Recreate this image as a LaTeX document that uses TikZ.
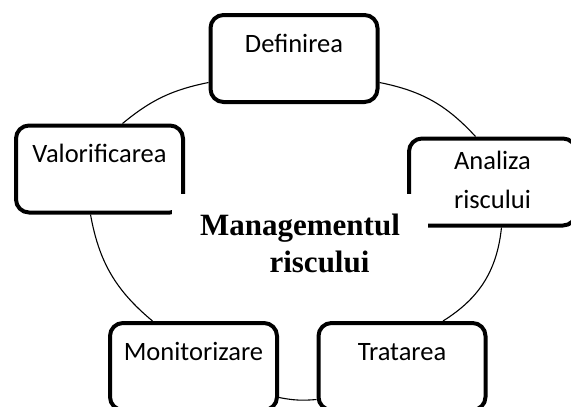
\documentclass[tikz,border=0pt]{standalone}
\usepackage{fontspec}
\setmainfont{Carlito}
\newfontfamily\hubfont{Liberation Serif}
\begin{document}
\begin{tikzpicture}[x=1pt,y=-1pt,line join=bevel,
  stage/.style={draw,line width=4pt,rounded corners=13pt,fill=white,
    minimum width=167pt,inner xsep=0pt,inner ysep=0pt,align=center,
    font=\fontsize{26.5}{39}\selectfont,text height=37pt,text depth=50pt},
  ring/.style={line width=1.1pt},
  hub/.style={fill=white,minimum width=256pt,inner xsep=0pt,inner ysep=20pt,
    align=center,font=\hubfont\bfseries\fontsize{31}{37}\selectfont}]
\useasboundingbox (0,0) rectangle (571,407);
%%
\node (node_def) at (294,58.5) [stage] {Definirea};
  \node (node_ana) at (492.5,182) [stage,text height=70pt,text depth=17pt] {Analiza\\riscului};
  \node (node_trat) at (402,366.5) [stage] {Tratarea};
  \node (node_mon) at (193.5,366.5) [stage] {Monitorizare};
  \node (node_val) at (99.5,169) [stage] {Valorificarea};
  \draw [ring] ([xshift=23pt]node_val.north) to[bend left=14] ([yshift=-24pt]node_def.west);
  \draw [ring] ([yshift=-24pt]node_def.east) to[bend left=18] ([xshift=-17pt]node_ana.north);
  \draw [ring] ([xshift=9pt]node_ana.south) to[bend left=26] ([xshift=41pt]node_trat.north);
  \draw [ring] ([yshift=-31pt]node_mon.east) to[bend right=8] ([yshift=-33pt]node_trat.west);
  \draw [ring] ([xshift=-41pt]node_mon.north) to[bend left=20] ([xshift=-9pt]node_val.south);
  \node (node_hub) at (300,194) [hub,anchor=north] {Managementul\\\hspace*{39pt}riscului};
%
\end{tikzpicture}
\end{document}
